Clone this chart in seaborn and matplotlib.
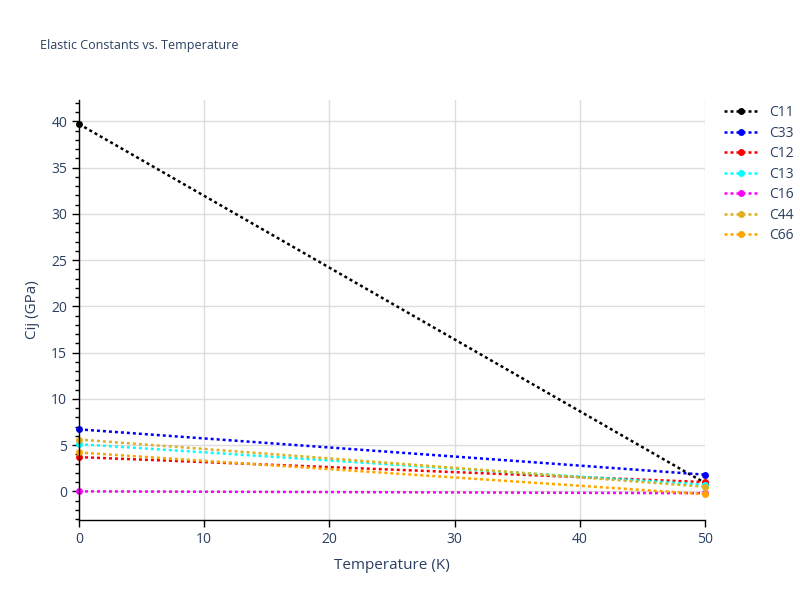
import numpy as np
import matplotlib
matplotlib.use('Agg')
import matplotlib.pyplot as plt
import pandas as pd
import seaborn as sns
from matplotlib.ticker import MultipleLocator

temps = [0, 50]
names = ['C11', 'C33', 'C12', 'C13', 'C16', 'C44', 'C66']
c11 = [39.7, 0.9]
c33 = [6.7, 1.8]
c12 = [3.7, 1.0]
c13 = [5.1, 0.7]
c16 = [0.0, -0.2]
c44 = [5.6, 0.5]
c66 = [4.2, -0.3]
colors = ['black', 'blue', 'red', 'cyan', 'magenta', '#e0b020', 'orange']

series = [c11, c33, c12, c13, c16, c44, c66]
df = pd.DataFrame({
    'T': temps * len(names),
    'Cij': [v for s in series for v in s],
    'name': [n for n in names for _ in temps],
})

sns.set_style('white')
plt.rcParams['font.family'] = ['Open Sans', 'DejaVu Sans']
txt = '#2a3f5f'

fig = plt.figure(figsize=(8, 6), dpi=100)
ax = fig.add_axes([0.09875, 0.1333, 0.7825, 0.7])

sns.lineplot(data=df, x='T', y='Cij', hue='name', palette=dict(zip(names, colors)),
             marker='o', markersize=5, markeredgewidth=0, linestyle=(0, (1.2, 1.2)),
             linewidth=1.8, ax=ax, clip_on=False)

ax.set_xlim(0, 50)
ax.set_ylim(-3.1, 42.3)
ax.xaxis.set_major_locator(MultipleLocator(10))
ax.yaxis.set_major_locator(MultipleLocator(5))
ax.yaxis.set_minor_locator(MultipleLocator(1))
ax.grid(True, which='major', color='#dddddd', linewidth=1)
for s in ['top', 'right']:
    ax.spines[s].set_visible(False)
for s in ['left', 'bottom']:
    ax.spines[s].set_color('black')
    ax.spines[s].set_linewidth(1)
ax.tick_params(axis='both', which='major', direction='out', length=5, width=1,
               colors='black', labelcolor=txt, labelsize=10, left=True, bottom=True)
ax.tick_params(axis='y', which='minor', direction='out', length=3, width=1,
               colors='black', left=True)

ax.set_xlabel('Temperature (K)', color=txt, fontsize=11, labelpad=8)
ax.set_ylabel('Cij (GPa)', color=txt, fontsize=11, labelpad=8)
fig.text(0.05, 0.918, 'Elastic Constants vs. Temperature', color=txt, fontsize=9)

leg = ax.legend(loc='upper left', bbox_to_anchor=(1.01, 1.018), frameon=False,
                fontsize=10, labelcolor=txt, handlelength=2.5, labelspacing=0.4)

fig.savefig('out.png', dpi=100)
